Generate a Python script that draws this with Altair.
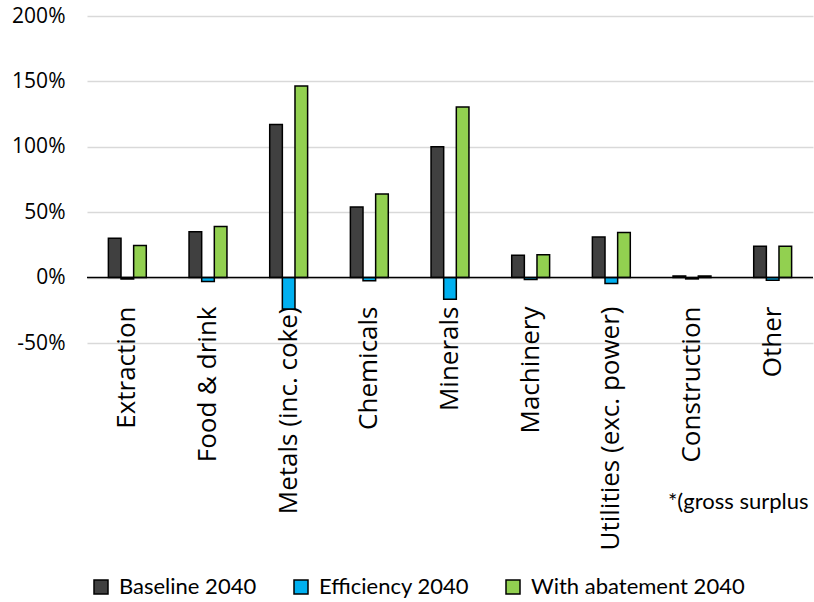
import altair as alt
import pandas as pd

# Sectors and the three 2040 scenarios (% change)
sectors = [
    "Extraction", "Food & drink", "Metals (inc. coke)", "Chemicals", "Minerals",
    "Machinery", "Utilities (exc. power)", "Construction", "Other",
]
series = ["Baseline 2040", "Efficiency 2040", "With abatement 2040"]
baseline = [30, 35, 117, 54, 100, 17, 31, 1.3, 24]
efficiency = [-1, -3, -24, -2.5, -16.5, -1.5, -4.5, -1, -2]
abatement = [24.5, 39, 146.5, 64, 130.5, 17.5, 34.5, 1.3, 24]
colors = ["#404040", "#00B0F0", "#92D050"]
y_ticks = [-50, 0, 50, 100, 150, 200]

rows = []
for name, vals in zip(series, [baseline, efficiency, abatement]):
    for s, v in zip(sectors, vals):
        rows.append({"sector": s, "series": name, "value": v})
df = pd.DataFrame(rows)

bars = alt.Chart(df).mark_bar(stroke="black", strokeWidth=1.5).encode(
    x=alt.X(
        "sector:N", sort=sectors,
        scale=alt.Scale(paddingInner=0.53, paddingOuter=0.265),
        axis=alt.Axis(
            title=None, labelAngle=-90, labelFontSize=26, labelFont="Open Sans",
            labelColor="black", domain=False, ticks=False, grid=False,
            offset=-37, labelPadding=0, labelLimit=400,
        ),
    ),
    xOffset=alt.XOffset("series:N", sort=series,
                        scale=alt.Scale(paddingInner=0, paddingOuter=0)),
    y=alt.Y(
        "value:Q",
        scale=alt.Scale(domain=[-50, 200], nice=False),
        axis=alt.Axis(
            title=None, values=y_ticks, labelExpr="datum.value + '%'",
            labelFontSize=21, labelFont="Open Sans", labelColor="black",
            labelPadding=22, domain=False, ticks=False,
            gridColor="#D9D9D9", gridWidth=1.5,
        ),
    ),
    color=alt.Color(
        "series:N", sort=series,
        scale=alt.Scale(domain=series, range=colors),
        legend=alt.Legend(
            title=None, orient="none", direction="horizontal",
            legendX=3, legendY=560, symbolType="square", symbolSize=196,
            symbolStrokeColor="black", symbolStrokeWidth=1.5, symbolOpacity=1,
            labelFontSize=22, labelFont="Lato",
            labelColor="black", columnPadding=33, labelOffset=7, padding=0,
            labelLimit=400,
        ),
    ),
)

zero = alt.Chart(pd.DataFrame({"v": [0]})).mark_rule(
    color="black", strokeWidth=1.5
).encode(y="v:Q")

note = alt.Chart(pd.DataFrame({"t": ["*(gross surplus"]})).mark_text(
    align="left", baseline="middle", fontSize=22, font="Lato", color="black",
).encode(text="t:N", x=alt.value(581), y=alt.value(486))

chart = alt.layer(bars, zero, note).properties(
    width=726, height=327,
    autosize=alt.AutoSizeParams(type="none"),
    padding={"left": 87, "top": 16, "right": 1, "bottom": 259},
).configure_view(stroke=None)

chart.save("out.html", embed_options={"renderer": "svg", "actions": False})
